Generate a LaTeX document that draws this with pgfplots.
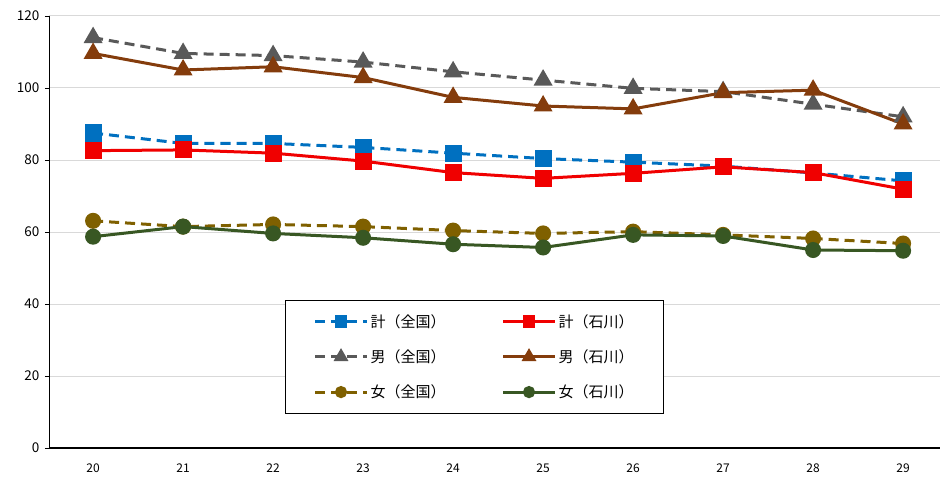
\documentclass[border=0pt]{standalone}
\usepackage{fontspec}
\setmainfont{Noto Sans CJK JP}
\usepackage{pgfplots}
\pgfplotsset{compat=1.18}
\definecolor{cblue}{HTML}{0070C0}
\definecolor{cred}{HTML}{F00000}
\definecolor{cgray}{HTML}{595959}
\definecolor{cbrown}{HTML}{843C0C}
\definecolor{colive}{HTML}{7F6000}
\definecolor{cgreen}{HTML}{385723}
\definecolor{gridc}{HTML}{D9D9D9}
\begin{document}
\begin{tikzpicture}
\begin{axis}[
  scale only axis, width=891pt, height=432pt,
  xmin=-0.49, xmax=9.41, ymin=0, ymax=120,
  ytick={0,20,40,60,80,100,120},
  xtick={0,1,2,3,4,5,6,7,8,9},
  xticklabels={20,21,22,23,24,25,26,27,28,29},
  axis x line*=bottom, axis y line*=left,
  x axis line style={-, black, line width=1.5pt},
  y axis line style={-, black, line width=0.8pt},
  ymajorgrids, grid style={gridc, line width=1pt},
  xtick style={draw=none},
  ytick style={black, line width=0.8pt},
  tick align=outside, major tick length=4pt,
  /pgf/number format/assume math mode=true,
  yticklabel style={font=\fontsize{13.5}{15}\selectfont, xshift=-2pt},
  xticklabel style={font=\fontsize{12}{14}\selectfont, yshift=-8pt},
  legend columns=2,
  legend cell align=left,
  legend style={at={(0.265,0.343)}, anchor=north west, draw=black, line width=0.8pt,
    font=\fontsize{15}{17}\selectfont, inner xsep=28pt, inner ysep=12pt,
    row sep=17pt,
    /tikz/every even column/.append style={column sep=54pt}},
  legend image code/.code={\draw[mark repeat=2, mark phase=2, every mark/.append style={scale=0.7}]
     plot coordinates {(0pt,0pt)(26pt,0pt)(52pt,0pt)};},
]
\addplot[cblue, line width=3pt, dash pattern=on 10pt off 6pt, mark=square*, mark size=7pt, mark options={solid}]
  coordinates {(0,87.5)(1,84.6)(2,84.6)(3,83.5)(4,81.9)(5,80.4)(6,79.4)(7,78.3)(8,76.4)(9,74.2)};
\addlegendentry{計（全国）}
\addplot[cred, line width=3pt, mark=square*, mark size=7pt]
  coordinates {(0,82.6)(1,82.8)(2,81.9)(3,79.7)(4,76.5)(5,74.9)(6,76.3)(7,78.1)(8,76.5)(9,71.9)};
\addlegendentry{計（石川）}
\addplot[cgray, line width=3pt, dash pattern=on 10pt off 6pt, mark=triangle*, mark size=8pt, mark options={solid}]
  coordinates {(0,114.0)(1,109.6)(2,109.0)(3,107.2)(4,104.5)(5,102.2)(6,99.9)(7,99.0)(8,95.5)(9,92.0)};
\addlegendentry{男（全国）}
\addplot[cbrown, line width=3pt, mark=triangle*, mark size=8pt]
  coordinates {(0,109.6)(1,105.0)(2,105.9)(3,102.9)(4,97.4)(5,95.0)(6,94.2)(7,98.7)(8,99.4)(9,90.0)};
\addlegendentry{男（石川）}
\addplot[colive, line width=3pt, dash pattern=on 10pt off 6pt, mark=*, mark size=6.5pt, mark options={solid}]
  coordinates {(0,63.1)(1,61.5)(2,62.1)(3,61.5)(4,60.4)(5,59.6)(6,60.1)(7,59.2)(8,58.2)(9,56.8)};
\addlegendentry{女（全国）}
\addplot[cgreen, line width=3pt, mark=*, mark size=6.5pt]
  coordinates {(0,58.7)(1,61.5)(2,59.6)(3,58.4)(4,56.6)(5,55.7)(6,59.2)(7,58.9)(8,55.0)(9,54.8)};
\addlegendentry{女（石川）}
\end{axis}
\path (current axis.south west) +(-49pt,-29pt);
\path (current axis.north east) +(2pt,16pt);
\end{tikzpicture}
\end{document}
